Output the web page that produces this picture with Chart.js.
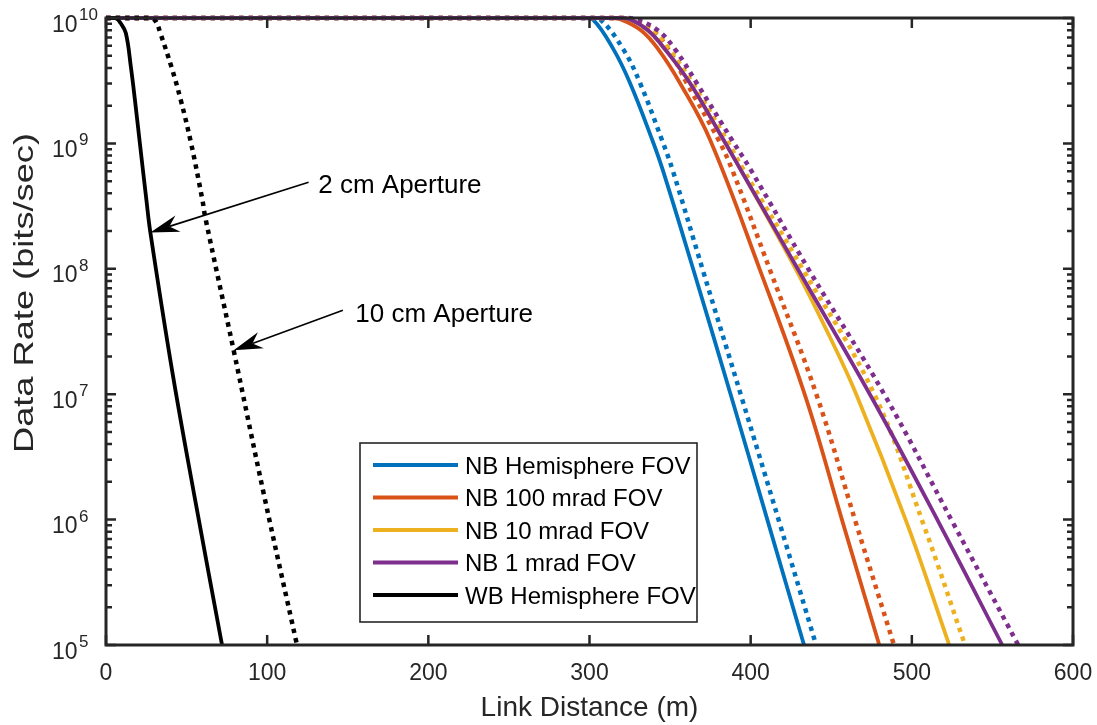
<!DOCTYPE html>
<html><head><meta charset="utf-8">
<script src="https://cdn.jsdelivr.net/npm/chart.js@4.4.1/dist/chart.umd.min.js"></script>
<style>html,body{margin:0;padding:0;background:#fff;}#wrap{width:1097px;height:725px;}</style>
</head><body><div id="wrap"><canvas id="c" width="1097" height="725"></canvas></div>
<script>
// ---------- data ----------
const xTicks = [0, 100, 200, 300, 400, 500, 600];
const yDecadeExponents = [5, 6, 7, 8, 9, 10];
const legendLabels = ['NB Hemisphere FOV', 'NB 100 mrad FOV', 'NB 10 mrad FOV', 'NB 1 mrad FOV', 'WB Hemisphere FOV'];
const annotationTexts = ['2 cm Aperture', '10 cm Aperture'];

// distances (m) and data rates (bits/sec); solid = 2 cm aperture, dotted = 10 cm aperture
const nbHemiDist   = [0, 295, 302, 314.9, 325.2, 338.9, 345.4, 364.5, 388, 411, 433.1];
const nbHemiRate   = [1e10, 1e10, 9.77e9, 5.62e9, 3.02e9, 1.07e9, 6.17e8, 9.77e7, 9.55e6, 9.33e5, 1e5];
const nbHemi10Dist = [0, 300, 306.6, 321, 331.4, 344.9, 351.5, 370.3, 394.5, 418, 440.6];
const nbHemi10Rate = [1e10, 1e10, 9.77e9, 5.62e9, 3.02e9, 1.07e9, 6.17e8, 9.77e7, 9.33e6, 9.33e5, 1e5];
const nb100Dist    = [0, 312, 319, 332.1, 342.7, 356.2, 374.8, 405.8, 434, 457.3, 479.8];
const nb100Rate    = [1e10, 1e10, 9.77e9, 7.94e9, 5.62e9, 3.02e9, 1.07e9, 9.77e7, 9.55e6, 9.33e5, 1e5];
const nb100_10Dist = [0, 318, 325, 338.9, 349, 360.4, 380, 388.5, 412, 441, 465.4, 488.9];
const nb100_10Rate = [1e10, 1e10, 9.77e9, 7.94e9, 5.62e9, 3.02e9, 1.07e9, 6.17e8, 9.77e7, 9.77e6, 9.33e5, 1e5];
const nb10Dist     = [0, 318, 325, 336.4, 346.9, 362.4, 383.1, 393.8, 428.3, 447.5, 465.5, 497, 523.2];
const nb10Rate     = [1e10, 1e10, 9.77e9, 7.94e9, 5.62e9, 3.02e9, 1.07e9, 6.17e8, 9.77e7, 3.16e7, 1e7, 9.33e5, 1e5];
const nb10_10Dist  = [0, 320, 327, 340.1, 349.5, 364, 385, 395.5, 432.7, 476.7, 507, 533];
const nb10_10Rate  = [1e10, 1e10, 9.77e9, 7.94e9, 5.62e9, 3.02e9, 1.07e9, 6.17e8, 9.77e7, 1e7, 9.33e5, 1e5];
const nb1Dist      = [0, 318, 325, 336.4, 346.9, 362.4, 383.1, 393.8, 429.6, 476.1, 517, 556.1];
const nb1Rate      = [1e10, 1e10, 9.77e9, 7.94e9, 5.62e9, 3.02e9, 1.07e9, 6.17e8, 9.77e7, 8.91e6, 9.33e5, 1e5];
const nb1_10Dist   = [0, 322, 329, 342.6, 353.1, 366.6, 388.3, 400, 436.2, 483.3, 525.7, 566];
const nb1_10Rate   = [1e10, 1e10, 9.77e9, 7.94e9, 5.62e9, 3.02e9, 1.07e9, 6.17e8, 9.77e7, 9.77e6, 9.33e5, 1e5];
const wbDist       = [0, 6, 9, 12.3, 15.44, 17.92, 21.02, 25.05, 27.53, 41, 55, 72];
const wbRate       = [1e10, 1e10, 9.12e9, 7.59e9, 4.07e9, 2.24e9, 1e9, 3.55e8, 1.95e8, 1.55e7, 1.51e6, 1e5];
const wb10Dist     = [0, 28, 31, 33.7, 40.6, 46.3, 52.8, 59.8, 61.6, 79.2, 98, 118.5];
const wb10Rate     = [1e10, 1e10, 9.33e9, 7.59e9, 4.07e9, 2.24e9, 1e9, 3.55e8, 2.57e8, 2.24e7, 1.58e6, 1e5];

// annotation anchors in data units: [tailX, tailY, tipX, tipY, textX, textY]
const arrow2cm  = [125.7, 4.9e8, 27.5, 1.95e8, 131.7, 4.73e8];
const arrow10cm = [147, 4.68e7, 79.2, 2.24e7, 154.7, 4.43e7];

// ---------- chart ----------
const FONT = "'Liberation Sans', Arial, Helvetica, sans-serif";
const INK = '#262626';
const COLORS = { blue: '#0072BD', orange: '#D95319', yellow: '#EDB120', purple: '#7E2F8E', black: '#000000' };

function pts(d, r) { return d.map((x, i) => ({ x: x, y: r[i] })); }
let drawIdx = 0;
function ds(label, d, r, color, dotted, legendIdx) {
  const o = {
    label: label,
    data: pts(d, r),
    borderColor: color,
    backgroundColor: color,
    borderWidth: dotted ? 4.5 : 3.8,
    borderDash: dotted ? [4.5, 5] : [],
    borderCapStyle: 'butt',
    borderJoinStyle: 'round',
    pointRadius: 0,
    fill: false,
    tension: 0.4,
    clip: 3,
    order: 20 - drawIdx,
    legendIdx: legendIdx
  };
  drawIdx++;
  return o;
}
const datasets = [
  ds(legendLabels[0], nbHemiDist, nbHemiRate, COLORS.blue, false, 0),
  ds(legendLabels[0] + ' (10 cm)', nbHemi10Dist, nbHemi10Rate, COLORS.blue, true, -1),
  ds(legendLabels[1], nb100Dist, nb100Rate, COLORS.orange, false, 1),
  ds(legendLabels[1] + ' (10 cm)', nb100_10Dist, nb100_10Rate, COLORS.orange, true, -1),
  ds(legendLabels[2], nb10Dist, nb10Rate, COLORS.yellow, false, 2),
  ds(legendLabels[2] + ' (10 cm)', nb10_10Dist, nb10_10Rate, COLORS.yellow, true, -1),
  ds(legendLabels[3], nb1Dist, nb1Rate, COLORS.purple, false, 3),
  ds(legendLabels[3] + ' (10 cm)', nb1_10Dist, nb1_10Rate, COLORS.purple, true, -1),
  ds(legendLabels[4], wbDist, wbRate, COLORS.black, false, 4),
  ds(legendLabels[4] + ' (10 cm)', wb10Dist, wb10Rate, COLORS.black, true, -1)
];

function drawArrow(ctx, x1, y1, x2, y2) {
  const a = Math.atan2(y2 - y1, x2 - x1);
  const L = 29, W = 8.5, N = 9;
  const bx = x2 - L * Math.cos(a), by = y2 - L * Math.sin(a);
  const nx = x2 - (L - N) * Math.cos(a), ny = y2 - (L - N) * Math.sin(a);
  ctx.strokeStyle = '#000'; ctx.lineWidth = 1.6; ctx.setLineDash([]);
  ctx.beginPath(); ctx.moveTo(x1, y1); ctx.lineTo(nx, ny); ctx.stroke();
  ctx.fillStyle = '#000';
  ctx.beginPath();
  ctx.moveTo(x2, y2);
  ctx.lineTo(bx - W * Math.sin(a), by + W * Math.cos(a));
  ctx.lineTo(nx, ny);
  ctx.lineTo(bx + W * Math.sin(a), by - W * Math.cos(a));
  ctx.closePath(); ctx.fill();
}

const decor = {
  id: 'decor',
  afterDatasetsDraw(chart) {
    const ctx = chart.ctx, xs = chart.scales.x, ys = chart.scales.y, ca = chart.chartArea;
    ctx.save();
    // annotations
    [arrow2cm, arrow10cm].forEach((a, i) => {
      drawArrow(ctx, xs.getPixelForValue(a[0]), ys.getPixelForValue(a[1]), xs.getPixelForValue(a[2]), ys.getPixelForValue(a[3]));
      ctx.fillStyle = '#000'; ctx.font = '26px ' + FONT; ctx.textAlign = 'left'; ctx.textBaseline = 'alphabetic';
      ctx.fillText(annotationTexts[i], xs.getPixelForValue(a[4]), ys.getPixelForValue(a[5]) + 9.3);
    });
    // legend
    const lx0 = 360, ly0 = 443, lx1 = 697, ly1 = 622;
    ctx.fillStyle = '#fff'; ctx.fillRect(lx0, ly0, lx1 - lx0, ly1 - ly0);
    ctx.strokeStyle = INK; ctx.lineWidth = 1.6; ctx.strokeRect(lx0, ly0, lx1 - lx0, ly1 - ly0);
    chart.data.datasets.filter(d => d.legendIdx >= 0).forEach(d => {
      const ry = 465 + 32.5 * d.legendIdx;
      ctx.strokeStyle = d.borderColor; ctx.lineWidth = 4; ctx.setLineDash([]);
      ctx.beginPath(); ctx.moveTo(373, ry); ctx.lineTo(458, ry); ctx.stroke();
      ctx.fillStyle = '#000'; ctx.font = '24px ' + FONT; ctx.textAlign = 'left'; ctx.textBaseline = 'alphabetic';
      ctx.fillText(d.label, 465, ry + 8.6);
    });
    // axes box
    ctx.strokeStyle = INK; ctx.lineWidth = 3; ctx.setLineDash([]);
    ctx.strokeRect(ca.left, ca.top, ca.right - ca.left, ca.bottom - ca.top);
    // x ticks
    ctx.lineWidth = 2.5;
    xTicks.forEach(v => {
      const px = xs.getPixelForValue(v);
      ctx.beginPath(); ctx.moveTo(px, ca.bottom); ctx.lineTo(px, ca.bottom - 10);
      ctx.moveTo(px, ca.top); ctx.lineTo(px, ca.top + 10); ctx.stroke();
    });
    // y ticks (major + minor) and labels
    yDecadeExponents.forEach(e => {
      for (let m = 1; m <= 9; m++) {
        if (e === 10 && m > 1) break;
        const py = ys.getPixelForValue(m * Math.pow(10, e));
        const len = m === 1 ? 10 : 6;
        ctx.beginPath(); ctx.moveTo(ca.left, py); ctx.lineTo(ca.left + len, py);
        ctx.moveTo(ca.right, py); ctx.lineTo(ca.right - len, py); ctx.stroke();
      }
      const py = ys.getPixelForValue(Math.pow(10, e));
      const es = String(e);
      const R = 79 + 9.5 * es.length;
      ctx.fillStyle = INK; ctx.textAlign = 'right'; ctx.textBaseline = 'alphabetic';
      ctx.font = '17px ' + FONT;
      const ew = ctx.measureText(es).width;
      ctx.fillText(es, R, py + 2);
      ctx.font = '23px ' + FONT;
      ctx.fillText('10', R - ew - 1.5, py + 13.5);
    });
    // y axis title
    ctx.save();
    ctx.translate(33.3, 293);
    ctx.rotate(-Math.PI / 2);
    ctx.font = '28px ' + FONT;
    const t = 'Data Rate (bits/sec)';
    const w = ctx.measureText(t).width;
    ctx.scale(320 / w, 1);
    ctx.fillStyle = INK; ctx.textAlign = 'center'; ctx.textBaseline = 'alphabetic';
    ctx.fillText(t, 0, 0);
    ctx.restore();
    ctx.restore();
  }
};

Chart.defaults.font.family = FONT;
new Chart(document.getElementById('c'), {
  type: 'line',
  data: { datasets: datasets },
  options: {
    responsive: false,
    animation: false,
    devicePixelRatio: 1,
    layout: { padding: { top: 18, right: 24, left: 0, bottom: 0 } },
    plugins: { legend: { display: false }, tooltip: { enabled: false } },
    scales: {
      x: {
        type: 'linear', min: 0, max: 600,
        grid: { display: false, drawTicks: false, tickLength: 0 },
        border: { display: false },
        afterBuildTicks: s => { s.ticks = xTicks.map(v => ({ value: v })); },
        ticks: { font: { size: 23 }, color: INK, padding: 15, maxRotation: 0, autoSkip: false },
        title: { display: true, text: 'Link Distance (m)', font: { size: 28 }, color: INK, padding: { top: 0, bottom: 0 } },
        afterFit: s => { s.height = 80; s.paddingLeft = 0; s.paddingRight = 0; }
      },
      y: {
        type: 'logarithmic', min: 1e5, max: 1e10,
        grid: { display: false, drawTicks: false, tickLength: 0 },
        border: { display: false },
        ticks: { display: false },
        title: { display: false, text: 'Data Rate (bits/sec)' },
        afterFit: s => { s.width = 106; s.paddingTop = 0; s.paddingBottom = 0; }
      }
    }
  },
  plugins: [decor]
});
</script></body></html>
